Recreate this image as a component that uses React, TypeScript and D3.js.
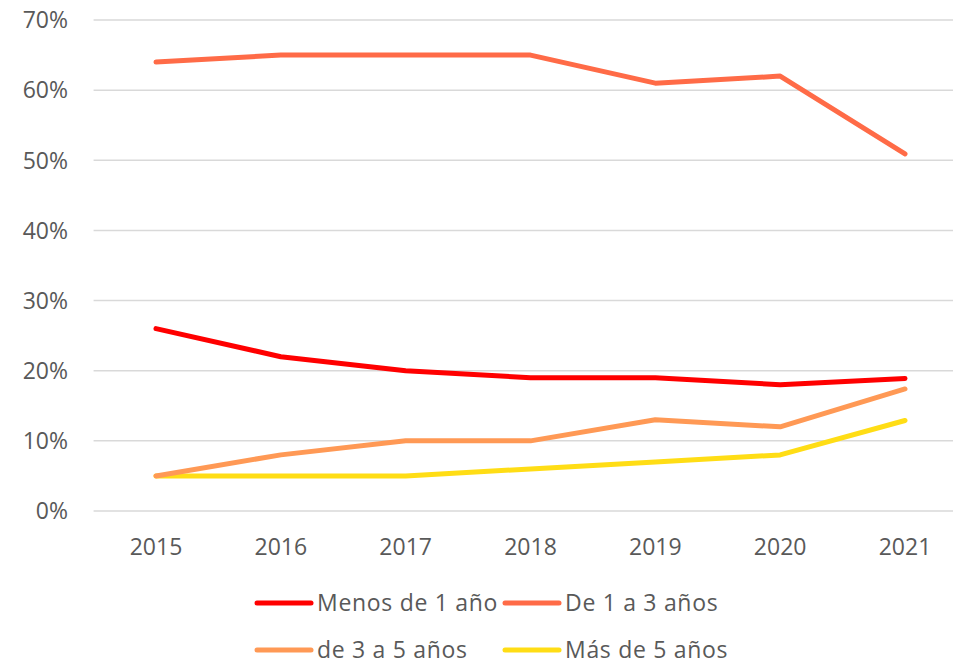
import * as React from 'react';
import * as d3 from 'd3';

const years = ['2015', '2016', '2017', '2018', '2019', '2020', '2021'];
const menos1 = [26, 22, 20, 19, 19, 18, 18.9];
const de1a3 = [64, 65, 65, 65, 61, 62, 50.9];
const de3a5 = [5, 8, 10, 10, 13, 12, 17.4];
const mas5 = [5, 5, 5, 6, 7, 8, 12.9];
const yTicks = [0, 10, 20, 30, 40, 50, 60, 70];

const seriesNames = ['Menos de 1 año', 'De 1 a 3 años', 'de 3 a 5 años', 'Más de 5 años'];
const seriesColors = ['#ff0000', '#ff6b47', '#ff9955', '#ffdd15'];

const W = 953;
const H = 664;
const font = '"Open Sans", sans-serif';
const textColor = '#595959';

export default function App() {
  const x = d3.scalePoint<string>().domain(years).range([156, 905]);
  const y = d3.scaleLinear().domain([0, 70]).range([511, 20]);
  const step = x.step();
  const left = x(years[0])! - step / 2;
  const right = x(years[years.length - 1])! + step / 2;

  const line = d3
    .line<number>()
    .x((_, i) => x(years[i])!)
    .y((d) => y(d));

  const series = [menos1, de1a3, de3a5, mas5];
  // draw order: back to front
  const drawOrder = [3, 2, 1, 0];

  const legendCols = [257, 505];
  const legendRows = [603, 650];

  return (
    <svg
      width={W}
      height={H}
      style={{ position: 'absolute', left: 0, top: 0, background: '#fff' }}
      fontFamily={font}
    >
      {yTicks.map((t) => (
        <g key={t}>
          <line x1={left} x2={right} y1={y(t)} y2={y(t)} stroke="#d9d9d9" strokeWidth={1.5} />
          <text x={68} y={y(t)} dy="0.36em" textAnchor="end" fontSize={23} fill={textColor}>
            {t}%
          </text>
        </g>
      ))}
      {years.map((yr) => (
        <text key={yr} x={x(yr)!} y={555} textAnchor="middle" fontSize={23} fill={textColor}>
          {yr}
        </text>
      ))}
      {drawOrder.map((i) => (
        <path
          key={i}
          d={line(series[i])!}
          fill="none"
          stroke={seriesColors[i]}
          strokeWidth={5}
          strokeLinecap="round"
          strokeLinejoin="round"
        />
      ))}
      {seriesNames.map((name, i) => {
        const cx = legendCols[i % 2];
        const cy = legendRows[Math.floor(i / 2)];
        return (
          <g key={name}>
            <line
              x1={cx}
              x2={cx + 54}
              y1={cy}
              y2={cy}
              stroke={seriesColors[i]}
              strokeWidth={5}
              strokeLinecap="round"
            />
            <text
              x={cx + 60}
              y={cy}
              dy="0.34em"
              fontSize={23}
              letterSpacing={0.7}
              fill={textColor}
            >
              {name}
            </text>
          </g>
        );
      })}
    </svg>
  );
}
